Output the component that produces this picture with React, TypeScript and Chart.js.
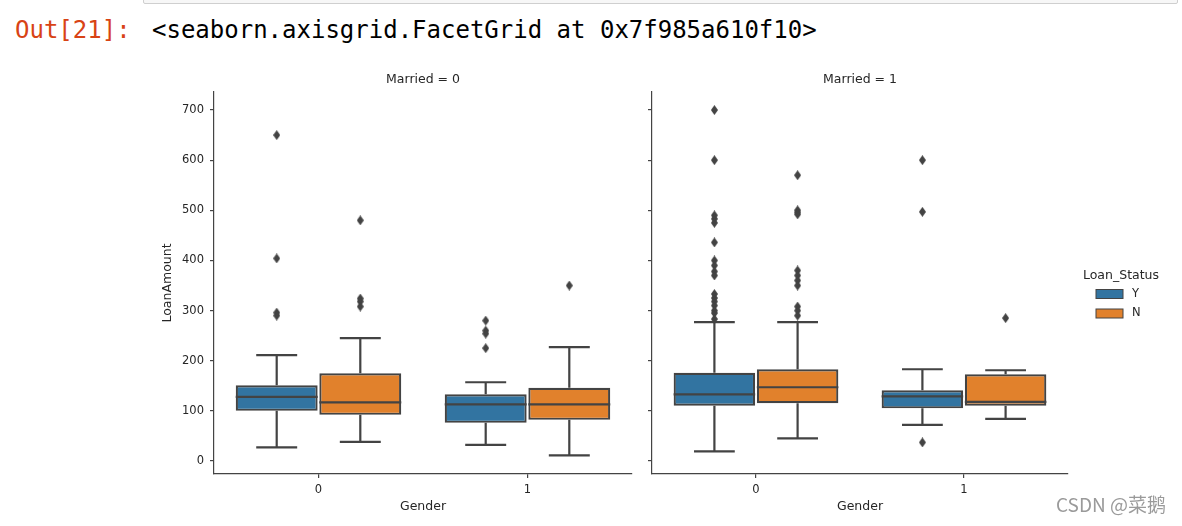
import React, { useEffect, useRef } from 'react';
import { Chart, registerables } from 'chart.js';

Chart.register(...registerables);
Chart.defaults.font.family = "'DejaVu Sans', sans-serif";

// ---------- data ----------
const genders = ['0', '1'];
const statuses = ['Y', 'N'];
const statusColors = ['#3274a1', '#e1812c'];
const yTickValues = [0, 100, 200, 300, 400, 500, 600, 700];
const panelTitles = ['Married = 0', 'Married = 1'];
const legendTitle = 'Loan_Status';

// Married = 0, Loan_Status = Y (index = Gender)
const m0YLow = [27, 32];
const m0YQ1 = [100, 76];
const m0YMed = [128, 113];
const m0YQ3 = [151, 133];
const m0YHigh = [211, 157];
const m0YOut = [[650, 404, 296, 290], [280, 260, 254, 225]];
// Married = 0, Loan_Status = N
const m0NLow = [38, 11];
const m0NQ1 = [92, 82];
const m0NMed = [117, 113];
const m0NQ3 = [175, 146];
const m0NHigh = [245, 227];
const m0NOut = [[480, 324, 318, 308], [350]];
// Married = 1, Loan_Status = Y
const m1YLow = [19, 72];
const m1YQ1 = [110, 105];
const m1YMed = [133, 129];
const m1YQ3 = [176, 141];
const m1YHigh = [277, 183];
const m1YOut = [
  [700, 600, 490, 483, 475, 436, 400, 390, 378, 370, 333, 325, 318, 310, 300, 295, 283],
  [600, 497, 37],
];
// Married = 1, Loan_Status = N
const m1NLow = [45, 84];
const m1NQ1 = [115, 110];
const m1NMed = [147, 118];
const m1NQ3 = [183, 173];
const m1NHigh = [277, 181];
const m1NOut = [[570, 500, 496, 492, 380, 370, 360, 350, 308, 300, 290], [285]];

// ---------- styles ----------
const LINE = '#434343';
const AXIS = '#444444';
const TEXT = '#262626';

type Stats = { low: number[]; q1: number[]; med: number[]; q3: number[]; high: number[]; out: number[][] };

const panel0: Stats[] = [
  { low: m0YLow, q1: m0YQ1, med: m0YMed, q3: m0YQ3, high: m0YHigh, out: m0YOut },
  { low: m0NLow, q1: m0NQ1, med: m0NMed, q3: m0NQ3, high: m0NHigh, out: m0NOut },
];
const panel1: Stats[] = [
  { low: m1YLow, q1: m1YQ1, med: m1YMed, q3: m1YQ3, high: m1YHigh, out: m1YOut },
  { low: m1NLow, q1: m1NQ1, med: m1NMed, q3: m1NQ3, high: m1NHigh, out: m1NOut },
];

function makeDiamond(color: string) {
  const c = document.createElement('canvas');
  c.width = 7;
  c.height = 10;
  const g = c.getContext('2d')!;
  g.fillStyle = color;
  g.beginPath();
  g.moveTo(3.5, 0);
  g.lineTo(7, 5);
  g.lineTo(3.5, 10);
  g.lineTo(0, 5);
  g.closePath();
  g.fill();
  return c;
}

function buildDatasets(stats: Stats[]) {
  const dodge = [-0.2, 0.2];
  const boxHalf = 0.196;
  const capHalf = 0.098;
  const diamond = makeDiamond(LINE);
  const bars = stats.map((s, k) => ({
    type: 'bar',
    label: statuses[k],
    data: genders.map((_, i) => ({ x: i + dodge[k], y: [s.q1[i], s.q3[i]] })),
    backgroundColor: statusColors[k],
    borderColor: LINE,
    borderWidth: 2.2,
    borderSkipped: false,
    grouped: false,
    categoryPercentage: 1,
    barPercentage: 0.98,
    order: 3,
  }));
  const segs: any[] = [];
  const seg = (x1: number, y1: number, x2: number, y2: number) => {
    segs.push({ x: x1, y: y1 }, { x: x2, y: y2 }, { x: x2, y: null });
  };
  stats.forEach((s, k) =>
    genders.forEach((_, i) => {
      const c = i + dodge[k];
      seg(c, s.q3[i], c, s.high[i]);
      seg(c - capHalf, s.high[i], c + capHalf, s.high[i]);
      seg(c, s.q1[i], c, s.low[i]);
      seg(c - capHalf, s.low[i], c + capHalf, s.low[i]);
      seg(c - boxHalf, s.med[i], c + boxHalf, s.med[i]);
    })
  );
  const lines = {
    type: 'line',
    label: 'lines',
    data: segs,
    borderColor: LINE,
    borderWidth: 2.2,
    pointRadius: 0,
    spanGaps: false,
    fill: false,
    tension: 0,
    grouped: false,
    order: 1,
  };
  const pts: any[] = [];
  stats.forEach((s, k) =>
    genders.forEach((_, i) => s.out[i].forEach((v) => pts.push({ x: i + dodge[k], y: v })))
  );
  const outliers = {
    type: 'scatter',
    label: 'outliers',
    data: pts,
    pointStyle: diamond,
    pointRadius: 4,
    backgroundColor: LINE,
    borderColor: LINE,
    grouped: false,
    order: 0,
  };
  return [...bars, lines, outliers];
}

// legend drawn next to the plot area (seaborn FacetGrid style)
const facetLegend = {
  id: 'facetLegend',
  afterDraw(chart: any, _args: any, opts: any) {
    if (!opts || !opts.show) return;
    const { ctx, chartArea } = chart;
    const midY = (chartArea.top + chartArea.bottom) / 2;
    const r = chartArea.right;
    ctx.save();
    ctx.textBaseline = 'middle';
    ctx.textAlign = 'center';
    ctx.fillStyle = TEXT;
    ctx.font = "12.5px 'DejaVu Sans'";
    ctx.fillText(legendTitle, r + 53, midY - 7.5);
    statuses.forEach((lab, i) => {
      const cy = midY + 11 + i * 19.5;
      ctx.fillStyle = statusColors[i];
      ctx.fillRect(r + 28, cy - 4.5, 27, 9);
      ctx.strokeStyle = LINE;
      ctx.lineWidth = 1;
      ctx.strokeRect(r + 28, cy - 4.5, 27, 9);
      ctx.fillStyle = TEXT;
      ctx.textAlign = 'left';
      ctx.font = "11.5px 'DejaVu Sans'";
      ctx.fillText(lab, r + 64, cy);
    });
    ctx.restore();
  },
};

type PanelProps = {
  stats: Stats[];
  title: string;
  left: number;
  width: number;
  yWidth: number;
  showYLabels: boolean;
  showLegend: boolean;
  padRight: number;
};

function Panel(p: PanelProps) {
  const ref = useRef<HTMLCanvasElement | null>(null);
  useEffect(() => {
    if (!ref.current) return;
    const chart = new Chart(ref.current, {
      type: 'bar',
      data: { datasets: buildDatasets(p.stats) as any },
      plugins: [facetLegend],
      options: {
        responsive: false,
        maintainAspectRatio: false,
        animation: false,
        layout: { padding: { left: 0, right: p.padRight, top: 0, bottom: 0 } },
        events: [],
        scales: {
          x: {
            type: 'linear',
            min: -0.5,
            max: 1.5,
            offset: false,
            afterBuildTicks: (s: any) => {
              s.ticks = genders.map((_, i) => ({ value: i }));
            },
            grid: { offset: false, drawOnChartArea: false, tickLength: 4, color: AXIS, lineWidth: 1.2 },
            border: { color: AXIS, width: 1.2 },
            ticks: {
              color: TEXT,
              font: { size: 11.5 },
              padding: 5,
              maxRotation: 0,
              callback: (v: any) => genders[Math.round(Number(v))],
            },
            title: {
              display: true,
              text: 'Gender',
              color: TEXT,
              font: { size: 12.5 },
              padding: { top: 0, bottom: 11.5 },
            },
            afterFit: (s: any) => {
              s.height = 52;
            },
          },
          y: {
            type: 'linear',
            min: -26,
            max: 736,
            afterBuildTicks: (s: any) => {
              s.ticks = yTickValues.map((v) => ({ value: v }));
            },
            grid: { drawOnChartArea: false, tickLength: 4, color: AXIS, lineWidth: 1.2 },
            border: { color: AXIS, width: 1.2 },
            ticks: { display: p.showYLabels, color: TEXT, font: { size: 11.5 }, padding: 6 },
            title: {
              display: p.showYLabels,
              text: 'LoanAmount',
              color: TEXT,
              font: { size: 12.5 },
              padding: { top: 20.5, bottom: 0 },
            },
            afterFit: (s: any) => {
              s.width = p.yWidth;
            },
          },
        },
        plugins: {
          tooltip: { enabled: false },
          legend: { display: false },
          title: {
            display: true,
            text: p.title,
            color: TEXT,
            fullSize: false,
            font: { size: 12.5, weight: 'normal' },
            padding: { top: 12, bottom: 5 },
          },
          facetLegend: { show: p.showLegend },
        },
      } as any,
    });
    return () => chart.destroy();
  }, []);
  return (
    <canvas
      ref={ref}
      width={p.width}
      height={466}
      style={{ position: 'absolute', left: p.left, top: 60, width: p.width, height: 466 }}
    />
  );
}

export default function App() {
  return (
    <div
      style={{
        position: 'fixed',
        left: 0,
        top: 0,
        width: 1182,
        height: 526,
        background: '#ffffff',
        overflow: 'hidden',
      }}
    >
      <div
        style={{
          position: 'absolute',
          left: 143,
          top: -10,
          width: 1033,
          height: 12,
          border: '1px solid #cfcfcf',
          borderRadius: 2,
          background: '#f7f7f7',
        }}
      />
      <div
        style={{
          position: 'absolute',
          left: 15,
          top: 18,
          fontFamily: "'DejaVu Sans Mono', monospace",
          fontSize: 24,
          lineHeight: '24px',
          color: '#d84315',
          whiteSpace: 'pre',
        }}
      >
        Out[21]:
      </div>
      <div
        style={{
          position: 'absolute',
          left: 152,
          top: 18,
          fontFamily: "'DejaVu Sans Mono', monospace",
          fontSize: 24,
          lineHeight: '24px',
          color: '#000000',
          whiteSpace: 'pre',
        }}
      >
        {'<seaborn.axisgrid.FacetGrid at 0x7f985a610f10>'}
      </div>
      <Panel
        stats={panel0}
        title={panelTitles[0]}
        left={140}
        width={500}
        yWidth={74}
        showYLabels={true}
        showLegend={false}
        padRight={8}
      />
      <Panel
        stats={panel1}
        title={panelTitles[1]}
        left={640}
        width={542}
        yWidth={12}
        showYLabels={false}
        showLegend={true}
        padRight={114}
      />
      <div
        style={{
          position: 'absolute',
          left: 1056,
          top: 493,
          fontFamily: "'Noto Sans CJK SC', 'Noto Sans', sans-serif",
          fontSize: 19,
          lineHeight: '22px',
          color: '#9a9a9a',
          whiteSpace: 'pre',
        }}
      >
        CSDN @菜鹅
      </div>
    </div>
  );
}
